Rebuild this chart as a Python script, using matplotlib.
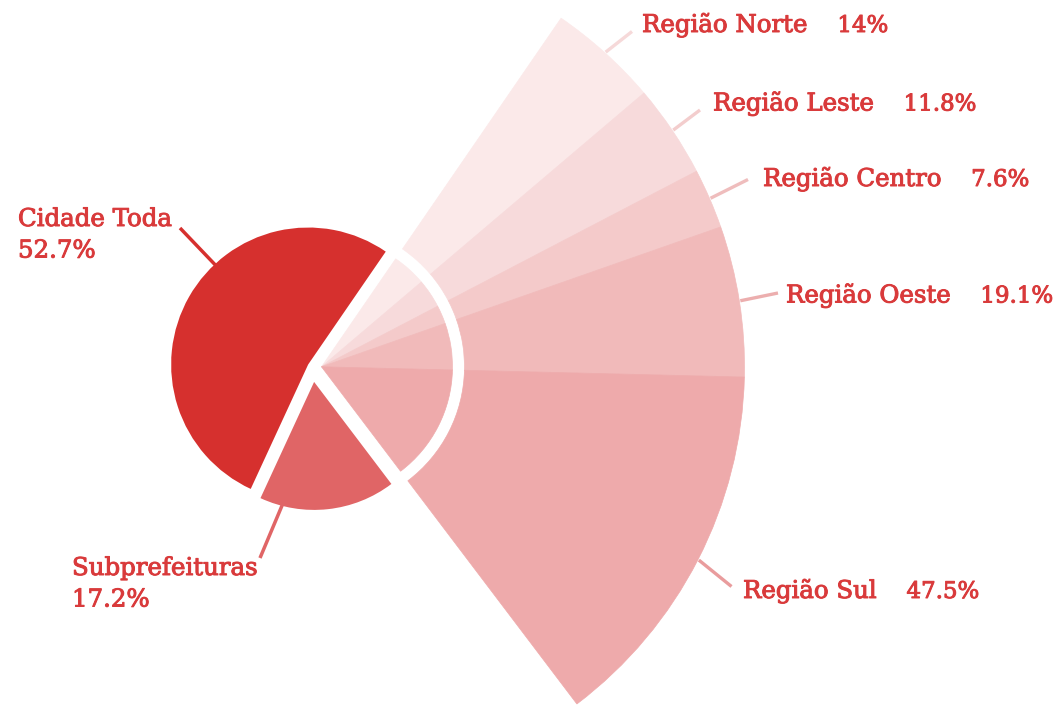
import numpy as np
import matplotlib
matplotlib.use('Agg')
import matplotlib.pyplot as plt
import matplotlib.patheffects as pe
from matplotlib.patches import Wedge

# main pie (the rest is broken down by region)
main_labels = ['Cidade Toda', 'Subprefeituras']
main_values = [52.7, 17.2]
main_colors = ['#D6302E', '#E06566']

# breakdown of the remaining share by region
region_labels = ['Região Norte', 'Região Leste', 'Região Centro', 'Região Oeste', 'Região Sul']
region_values = [14, 11.8, 7.6, 19.1, 47.5]
region_colors = ['#FBE9E9', '#F7DADB', '#F4CACA', '#F1BABA', '#EEAAAB']
region_line_colors = ['#F6D9D9', '#F3CDCD', '#EFBDBD', '#ECAEAE', '#E99C9D']

text_color = '#D93A3B'
font = 'DejaVu Serif'
fsize = 17.6
bold = [pe.withStroke(linewidth=0.7, foreground=text_color)]

W, H = 1055, 718
fig = plt.figure(figsize=(W / 100, H / 100), dpi=100)
ax = fig.add_axes([0, 0, 1, 1])
ax.set_xlim(0, W)
ax.set_ylim(0, H)
ax.axis('off')

# geometry (pixel units, y up)
cx, cy = 312.5, H - 367
start = 55.5
explode = [5, 15]
radius = [137, 128]
explode_reg = 9
r_inner, r_gap, r_outer = 131, 143, 423


def pol(x0, y0, r, ang):
    a = np.deg2rad(ang)
    return x0 + r * np.cos(a), y0 + r * np.sin(a)


# main slices
apex = []
a = start
for v, col, ex, r in zip(main_values, main_colors, explode, radius):
    t1, t2 = a, a + v * 3.6
    mx, my = pol(cx, cy, ex, (t1 + t2) / 2)
    ax.add_patch(Wedge((mx, my), r, t1, t2, facecolor=col, edgecolor='none'))
    apex.append((mx, my))
    a = t2

# region slices
r_t1, r_t2 = a, start + 360
span = r_t2 - r_t1
rx, ry = pol(cx, cy, explode_reg, (r_t1 + r_t2) / 2)

top = r_t2
mids = []
for v, col in zip(region_values, region_colors):
    t2, t1 = top, top - v / 100 * span
    ax.add_patch(Wedge((rx, ry), r_inner, t1, t2, facecolor=col, edgecolor=col, lw=0.5))
    ax.add_patch(Wedge((rx, ry), r_outer, t1, t2, width=r_outer - r_gap,
                       facecolor=col, edgecolor=col, lw=0.5))
    mids.append((t1 + t2) / 2)
    top = t1

fig.canvas.draw()
renderer = fig.canvas.get_renderer()


def label(x, y, s, size=fsize):
    return ax.text(x, y, s, color=text_color, fontsize=size, family=font,
                   va='baseline', path_effects=bold)


# region labels with leader lines (text x, baseline y and leader end, in pixels)
reg_text_pos = [(642, 32), (713, 110.5), (763, 186), (786, 302.5), (743, 598)]
reg_line_end = [(632, 31.5), (700, 110), (748, 179.5), (778, 293), (731.5, 586.5)]
for name, v, m, lc, tp, le in zip(region_labels, region_values, mids,
                                  region_line_colors, reg_text_pos, reg_line_end):
    x1, y1 = pol(rx, ry, r_outer + 1, m)
    ax.plot([x1, le[0]], [y1, H - le[1]], color=lc, lw=2.4, solid_capstyle='butt')
    t = label(tp[0], H - tp[1], name)
    bb = t.get_window_extent(renderer)
    x_end = ax.transData.inverted().transform((bb.x1, 0))[0]
    label(x_end + 30, H - tp[1], f'{v:g}%', size=16.5)

# main labels
lab_pos = [(18, 226), (72, 575)]
line_from = [(180, 228), (260, 558)]
line_ang = [133, 255.5]
for i, (name, v, col) in enumerate(zip(main_labels, main_values, main_colors)):
    x, y = lab_pos[i]
    label(x, H - y, name)
    label(x, H - y - 31.5, f'{v:g}%')
    ex, ey = pol(apex[i][0], apex[i][1], radius[i] - 1, line_ang[i])
    ax.plot([line_from[i][0], ex], [H - line_from[i][1], ey], color=col, lw=2.5,
            solid_capstyle='butt')

fig.savefig('out.png', dpi=100)
